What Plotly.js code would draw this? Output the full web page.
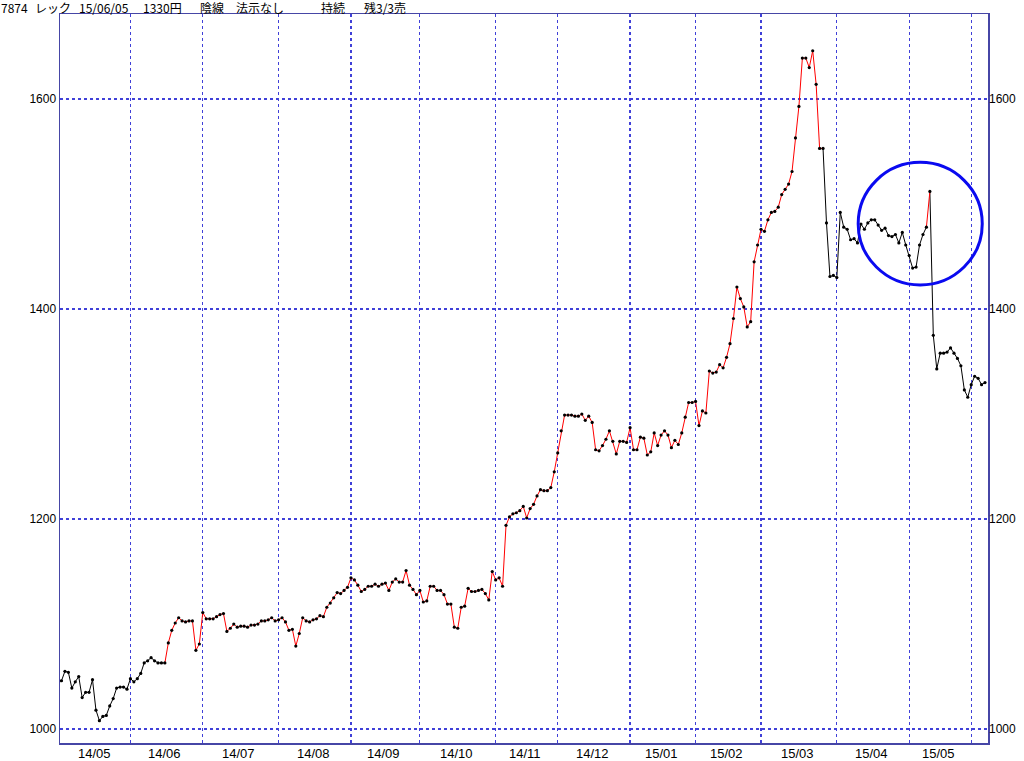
<!DOCTYPE html>
<html>
<head>
<meta charset="utf-8">
<script src="https://cdn.plot.ly/plotly-3.0.1.min.js"></script>
<style>
html,body{margin:0;padding:0;background:#fff;}
#chart{width:1024px;height:761px;}
</style>
</head>
<body>
<div id="chart"></div>
<script>
// ---- data ----
const headerWords = ['7874', 'レック', '15/06/05', '1330円', '陰線', '法示なし', '持続', '残3/3売'];

const monthLabels = ['14/05','14/06','14/07','14/08','14/09','14/10','14/11','14/12','15/01','15/02','15/03','15/04','15/05'];
const monthDays = [20,21,22,21,20,22,18,21,19,19,22,21,18,5];

const yTicks = [1000,1200,1400,1600];

const closes = [
1046,1055,1054,1039,1045,1050,1030,1035,1035,1047,
1018,1008,1012,1013,1022,1029,1039,1040,1040,1038,
1048,1045,1048,1053,1063,1065,1068,1065,1063,1063,
1063,1082,1094,1101,1106,1103,1102,1103,1103,1075,
1081,1111,1105,1105,1105,1107,1109,1110,1093,1096,
1100,1097,1098,1098,1097,1099,1099,1100,1103,1103,
1104,1106,1103,1104,1106,1102,1094,1095,1079,1091,
1106,1103,1102,1104,1105,1108,1107,1116,1120,1125,
1130,1129,1132,1135,1144,1142,1137,1131,1133,1136,
1136,1138,1136,1138,1139,1132,1140,1143,1140,1140,
1151,1137,1133,1128,1132,1121,1122,1136,1136,1132,
1132,1128,1119,1119,1097,1096,1116,1117,1134,1131,
1131,1132,1133,1129,1123,1150,1142,1144,1136,1194,
1202,1205,1206,1208,1212,1201,1210,1214,1222,1228,
1227,1227,1230,1245,1263,1284,1299,1299,1299,1298,
1298,1300,1294,1298,1292,1266,1265,1270,1276,1284,
1274,1262,1274,1274,1273,1287,1266,1266,1278,1277,
1261,1264,1282,1270,1280,1284,1280,1268,1275,1271,
1282,1297,1311,1311,1312,1289,1303,1301,1341,1339,
1340,1347,1344,1354,1367,1391,1421,1410,1402,1383,
1388,1445,1461,1476,1474,1485,1492,1493,1497,1509,
1514,1519,1531,1563,1593,1639,1639,1630,1646,1614,
1553,1553,1482,1431,1432,1430,1492,1478,1476,1466,
1467,1463,1481,1476,1482,1485,1485,1480,1475,1477,
1470,1469,1471,1463,1473,1461,1451,1439,1440,1461,
1471,1478,1512,1375,1343,1358,1358,1359,1363,1358,
1353,1346,1323,1316,1328,1336,1334,1328,1330
];

// index ranges (trading-day index) where the signal line is drawn red
const holdRanges = [[30,221],[251,252]];

// ---- derived ----
const xIdx = closes.map((_, i) => i);
const monthStarts = [];
let acc = 0;
monthDays.forEach(d => { monthStarts.push(acc); acc += d; });
const monthMids = monthLabels.map((_, k) => monthStarts[k] + (monthDays[k] - 1) / 2);

function segRed(i) {
  return holdRanges.some(([a, b]) => i >= a && i + 1 <= b);
}
const lines = { red: {x: [], y: []}, black: {x: [], y: []} };
let i = 0;
while (i < closes.length - 1) {
  const red = segRed(i);
  const tgt = red ? lines.red : lines.black;
  let j = i;
  tgt.x.push(xIdx[i]); tgt.y.push(closes[i]);
  while (j < closes.length - 1 && segRed(j) === red) {
    tgt.x.push(xIdx[j + 1]); tgt.y.push(closes[j + 1]);
    j++;
  }
  tgt.x.push(null); tgt.y.push(null);
  i = j;
}

const gridColor = '#4040d8';
const frameColor = '#4646a6';
const xRange = [-0.435, 268.87];
const yRange = [986.7, 1681];

const traces = [
  {x: lines.black.x, y: lines.black.y, type: 'scatter', mode: 'lines',
   line: {color: '#000000', width: 1}, connectgaps: false, hoverinfo: 'skip', showlegend: false},
  {x: lines.red.x, y: lines.red.y, type: 'scatter', mode: 'lines',
   line: {color: '#ff0000', width: 1}, connectgaps: false, hoverinfo: 'skip', showlegend: false},
  {x: xIdx, y: closes, type: 'scatter', mode: 'markers', yaxis: 'y2',
   marker: {color: '#000000', size: 3.2, symbol: 'circle'}, hoverinfo: 'skip', showlegend: false}
];

const annotations = monthLabels.map((t, k) => ({
  text: t, x: monthMids[k], xref: 'x', y: 0, yref: 'paper',
  xanchor: 'center', yanchor: 'top', yshift: -1, showarrow: false,
  font: {family: 'Liberation Sans, Arial, sans-serif', size: 13, color: '#000'}
}));
const px2paper = p => (p - 60) / 928;
const headerPx = [0, 34, 78, 142, 199, 235, 320, 363];
headerWords.forEach((t, k) => {
  annotations.push({
    text: t, x: px2paper(headerPx[k]), xref: 'paper', y: 1, yref: 'paper',
    xanchor: 'left', yanchor: 'middle', yshift: 7, showarrow: false,
    borderpad: 0,
    font: {family: 'Noto Sans CJK JP, sans-serif', size: 12, color: '#000'}
  });
});

const layout = {
  width: 1024, height: 761,
  margin: {l: 60, r: 36, t: 14, b: 18, pad: 0},
  paper_bgcolor: '#ffffff', plot_bgcolor: '#ffffff',
  showlegend: false,
  xaxis: {
    range: xRange, fixedrange: true,
    tickvals: monthStarts.slice(1), showticklabels: false, ticks: '',
    showgrid: true, gridcolor: gridColor, griddash: 'dot', gridwidth: 1.2,
    zeroline: false, showline: true, linecolor: frameColor, linewidth: 1.5, mirror: true
  },
  yaxis: {
    range: yRange, fixedrange: true,
    tickvals: yTicks, ticktext: yTicks.map(String), ticks: '',
    tickfont: {family: 'Liberation Sans, Arial, sans-serif', size: 12, color: '#000'},
    showgrid: true, gridcolor: gridColor, griddash: 'dot', gridwidth: 1.2,
    zeroline: false, showline: true, linecolor: frameColor, linewidth: 1.5, mirror: true
  },
  yaxis2: {
    range: yRange, fixedrange: true, overlaying: 'y', side: 'right',
    tickvals: yTicks, ticktext: yTicks.map(String), ticks: '',
    tickfont: {family: 'Liberation Sans, Arial, sans-serif', size: 12, color: '#000'},
    showgrid: false, zeroline: false, showline: false
  },
  shapes: [{
    type: 'circle', xref: 'x', yref: 'y',
    x0: 231.2, x1: 267.2, y0: 1422.9, y1: 1539.7,
    line: {color: '#0a0af0', width: 3}
  }],
  annotations: annotations
};

Plotly.newPlot('chart', traces, layout, {displayModeBar: false, staticPlot: true});
</script>
</body>
</html>
